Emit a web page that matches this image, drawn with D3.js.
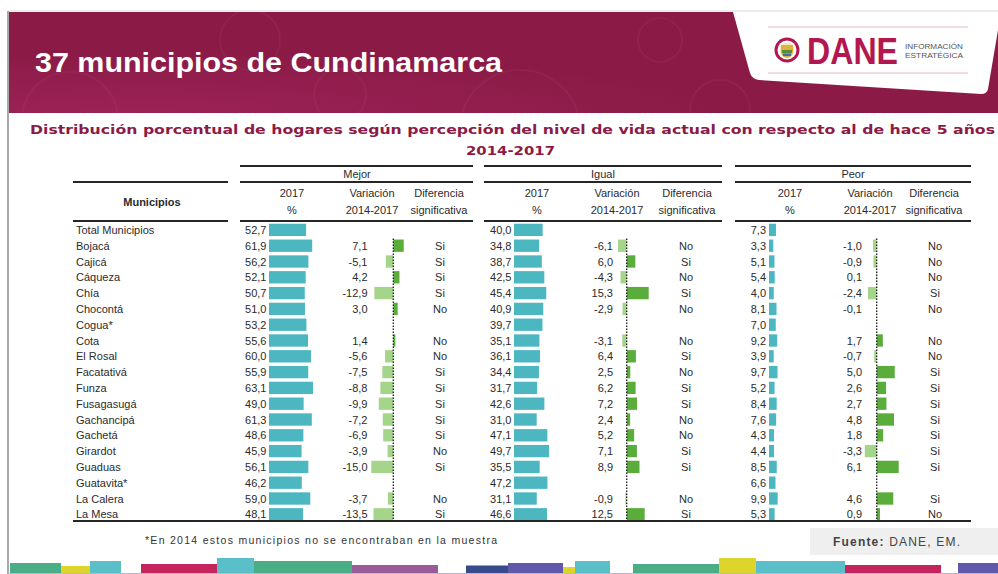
<!DOCTYPE html>
<html>
<head>
<meta charset="utf-8">
<script src="https://cdn.jsdelivr.net/npm/d3@7"></script>
<style>
  html, body { margin: 0; padding: 0; background: #ffffff; }
  svg { display: block; font-family: "Liberation Sans", Arial, sans-serif; }
</style>
</head>
<body>
<svg id="chart" width="998" height="574"></svg>
<script>
// ---- Data: perception of current living standard vs. 5 years earlier ----
const municipios = ["Total Municipios", "Bojacá", "Cajicá", "Cáqueza", "Chía", "Chocontá", "Cogua*",
  "Cota", "El Rosal", "Facatativá", "Funza", "Fusagasugá", "Gachancipá", "Gachetá", "Girardot",
  "Guaduas", "Guatavita*", "La Calera", "La Mesa"];

const mejor2017 = [52.7, 61.9, 56.2, 52.1, 50.7, 51.0, 53.2, 55.6, 60.0, 55.9, 63.1, 49.0, 61.3, 48.6, 45.9, 56.1, 46.2, 59.0, 48.1];
const mejorVar  = [null, 7.1, -5.1, 4.2, -12.9, 3.0, null, 1.4, -5.6, -7.5, -8.8, -9.9, -7.2, -6.9, -3.9, -15.0, null, -3.7, -13.5];
const mejorSig  = [null, "Si", "Si", "Si", "Si", "No", null, "No", "No", "Si", "Si", "Si", "Si", "Si", "No", "Si", null, "No", "Si"];

const igual2017 = [40.0, 34.8, 38.7, 42.5, 45.4, 40.9, 39.7, 35.1, 36.1, 34.4, 31.7, 42.6, 31.0, 47.1, 49.7, 35.5, 47.2, 31.1, 46.6];
const igualVar  = [null, -6.1, 6.0, -4.3, 15.3, -2.9, null, -3.1, 6.4, 2.5, 6.2, 7.2, 2.4, 5.2, 7.1, 8.9, null, -0.9, 12.5];
const igualSig  = [null, "No", "Si", "No", "Si", "No", null, "No", "Si", "No", "Si", "Si", "No", "No", "Si", "Si", null, "No", "Si"];

const peor2017 = [7.3, 3.3, 5.1, 5.4, 4.0, 8.1, 7.0, 9.2, 3.9, 9.7, 5.2, 8.4, 7.6, 4.3, 4.4, 8.5, 6.6, 9.9, 5.3];
const peorVar  = [null, -1.0, -0.9, 0.1, -2.4, -0.1, null, 1.7, -0.7, 5.0, 2.6, 2.7, 4.8, 1.8, -3.3, 6.1, null, 4.6, 0.9];
const peorSig  = [null, "No", "No", "No", "Si", "No", null, "No", "No", "Si", "Si", "Si", "Si", "Si", "Si", "Si", null, "Si", "No"];

const grupos = ["Mejor", "Igual", "Peor"];
const colHeaders = [["2017", "%"], ["Variación", "2014-2017"], ["Diferencia", "significativa"]];

const titulo = "37 municipios de Cundinamarca";
const subtitulo = "Distribución porcentual de hogares según percepción del nivel de vida actual con respecto al de hace 5 años";
const periodo = "2014-2017";
const nota = "*En 2014 estos municipios no se encontraban en la muestra";
const fuenteBold = "Fuente:";
const fuenteText = " DANE, EM.";

// ---- Layout ----
const W = 998, H = 574;
const svg = d3.select("#chart");
const maroon = "#8b1b46";
const teal = "#4cb6c1";
const greenPos = "#5aac3b";
const greenNeg = "#a5d48b";
const ink = "#2b2b2b";

// Column geometry for each group
const layout = [
  { x0: 240, x1: 473, label: 357, h: [292, 372, 439], valRight: 266.5, barX: 269, varRight: 367.5, axis: 393.3, sig: 440 },
  { x0: 484, x1: 722, label: 603, h: [537, 617, 687], valRight: 511.5, barX: 514, varRight: 613, axis: 626.7, sig: 686 },
  { x0: 735, x1: 971, label: 853, h: [790, 870, 934], valRight: 766, barX: 769, varRight: 862, axis: 876.7, sig: 935 }
];
const series = [
  { pct: mejor2017, vr: mejorVar, sig: mejorSig },
  { pct: igual2017, vr: igualVar, sig: igualSig },
  { pct: peor2017, vr: peorVar, sig: peorSig }
];

// ---- Frame and header band ----
svg.append("rect").attr("x", 0).attr("y", 0).attr("width", W).attr("height", H).attr("fill", "#fff");

const defs = svg.append("defs");
const grad = defs.append("radialGradient").attr("id", "bandGlow")
  .attr("cx", "0.12").attr("cy", "1.0").attr("r", "0.6");
grad.append("stop").attr("offset", "0").attr("stop-color", "#9c2257");
grad.append("stop").attr("offset", "1").attr("stop-color", maroon);

svg.append("line").attr("x1", 8).attr("x2", W).attr("y1", 11).attr("y2", 11)
  .attr("stroke", "#d9d9d9").attr("stroke-width", 1);
svg.append("rect").attr("x", 9).attr("y", 12).attr("width", W - 9).attr("height", 101)
  .attr("fill", "url(#bandGlow)");

// faint decorative rings in the band
const rings = [[70, 120, 48], [250, 40, 30], [340, 95, 26], [520, 130, 60], [660, 40, 22], [720, 110, 30]];
svg.append("g").selectAll("circle").data(rings).join("circle")
  .attr("cx", d => d[0]).attr("cy", d => d[1]).attr("r", d => d[2])
  .attr("fill", "none").attr("stroke", "rgba(255,255,255,0.035)").attr("stroke-width", 2);
svg.append("rect").attr("x", 0).attr("y", 113).attr("width", W).attr("height", 20).attr("fill", "#fff");

// left frame line
svg.append("line").attr("x1", 8).attr("x2", 8).attr("y1", 11).attr("y2", H)
  .attr("stroke", "#a9a9a9").attr("stroke-width", 2);

svg.append("text").attr("x", 35).attr("y", 72)
  .attr("fill", "#fff").attr("font-size", 28).attr("font-weight", "bold")
  .attr("textLength", 467).attr("lengthAdjust", "spacingAndGlyphs")
  .text(titulo);

// logo plate
svg.append("path")
  .attr("d", "M733,12 L998,12 L998,30 L988,89 Q987,94 981,94 L759,80 Q752,79 750,73 Z")
  .attr("fill", "#fff");
const logo = svg.append("g");
logo.append("line").attr("x1", 768).attr("x2", 968).attr("y1", 27).attr("y2", 27)
  .attr("stroke", "#efcfdd").attr("stroke-width", 1.5);
logo.append("line").attr("x1", 768).attr("x2", 968).attr("y1", 73).attr("y2", 73)
  .attr("stroke", "#efcfdd").attr("stroke-width", 1.5);
logo.append("circle").attr("cx", 787).attr("cy", 50).attr("r", 12.5).attr("fill", "#b3174f");
logo.append("circle").attr("cx", 787).attr("cy", 50).attr("r", 9.5).attr("fill", "#fff");
logo.append("circle").attr("cx", 787).attr("cy", 50).attr("r", 7.5).attr("fill", "#f3e6b8");
logo.append("path").attr("d", "M781,45 L793,45 L793,51 Q793,57 787,58 Q781,57 781,51 Z")
  .attr("fill", "#d9b53a");
logo.append("rect").attr("x", 782).attr("y", 50).attr("width", 10).attr("height", 3).attr("fill", "#5a8c3c");
logo.append("rect").attr("x", 783).attr("y", 53.5).attr("width", 8).attr("height", 2.5).attr("fill", "#3f6fb0");
logo.append("text").attr("x", 807).attr("y", 64)
  .attr("fill", "#b3174f").attr("font-size", 36).attr("font-weight", "bold")
  .attr("textLength", 91).attr("lengthAdjust", "spacingAndGlyphs")
  .attr("font-family", "'Liberation Sans Narrow', 'Liberation Sans', Arial, sans-serif")
  .text("DANE");
logo.append("text").attr("x", 905).attr("y", 48.5).attr("fill", "#555").attr("font-size", 7.5)
  .attr("textLength", 58).attr("lengthAdjust", "spacingAndGlyphs").text("INFORMACIÓN");
logo.append("text").attr("x", 905).attr("y", 57.5).attr("fill", "#555").attr("font-size", 7.5)
  .attr("textLength", 58).attr("lengthAdjust", "spacingAndGlyphs").text("ESTRATÉGICA");

// ---- Subtitle ----
svg.append("text").attr("x", 30).attr("y", 134)
  .attr("fill", maroon).attr("font-size", 13).attr("font-weight", "bold")
  .attr("font-family", "'DejaVu Sans', sans-serif")
  .attr("textLength", 965).attr("lengthAdjust", "spacingAndGlyphs")
  .text(subtitulo);
svg.append("text").attr("x", 466).attr("y", 155)
  .attr("fill", maroon).attr("font-size", 13).attr("font-weight", "bold")
  .attr("font-family", "'DejaVu Sans', sans-serif")
  .attr("textLength", 89).attr("lengthAdjust", "spacingAndGlyphs")
  .text(periodo);

// ---- Table header ----
const rule = (x1, x2, y) => svg.append("line").attr("x1", x1).attr("x2", x2).attr("y1", y).attr("y2", y)
  .attr("stroke", "#262626").attr("stroke-width", 2);

rule(73, 228, 182);
rule(73, 228, 221);
layout.forEach((L, i) => {
  rule(L.x0, L.x1, 166);
  rule(L.x0, L.x1, 182);
  rule(L.x0, L.x1, 221);
  svg.append("text").attr("x", L.label).attr("y", 178).attr("text-anchor", "middle")
    .attr("font-size", 11).attr("fill", ink).text(grupos[i]);
  colHeaders.forEach((lines, j) => {
    lines.forEach((t, k) => {
      svg.append("text").attr("x", L.h[j]).attr("y", 197 + k * 17).attr("text-anchor", "middle")
        .attr("font-size", 11).attr("fill", ink).text(t);
    });
  });
});
svg.append("text").attr("x", 152).attr("y", 206).attr("text-anchor", "middle")
  .attr("font-size", 11).attr("font-weight", "bold").attr("fill", ink).text("Municipios");

// ---- Rows ----
const y = d3.scaleBand().domain(municipios).range([222, 522.2]).paddingInner(0.22).paddingOuter(0.11);
const pctW = d3.scaleLinear().domain([0, 100]).range([2.1, 68.5]);
const fmt = v => d3.format(".1f")(v).replace("−", "-").replace(".", ",");

svg.append("g").selectAll("text").data(municipios).join("text")
  .attr("x", 76).attr("y", d => y(d) + y.bandwidth() / 2 + 4)
  .attr("font-size", 11).attr("fill", ink).text(d => d);

series.forEach((s, gi) => {
  const L = layout[gi];
  const g = svg.append("g");
  const rows = municipios.map((m, i) => ({ m, pct: s.pct[i], vr: s.vr[i], sig: s.sig[i] }));
  const maxAbs = d3.max(s.vr, v => v == null ? 0 : Math.abs(v));
  const xv = d3.scaleLinear().domain([-maxAbs, maxAbs]).range([L.axis - 22, L.axis + 22]);

  // 2017 values and bars
  g.selectAll(".pv").data(rows).join("text")
    .attr("x", L.valRight).attr("y", d => y(d.m) + y.bandwidth() / 2 + 4)
    .attr("text-anchor", "end").attr("font-size", 11).attr("fill", ink)
    .text(d => fmt(d.pct));
  g.selectAll(".pb").data(rows).join("rect")
    .attr("x", L.barX).attr("y", d => y(d.m))
    .attr("width", d => pctW(d.pct)).attr("height", y.bandwidth())
    .attr("fill", teal);

  const vrows = rows.filter(d => d.vr != null);
  g.selectAll(".vv").data(vrows).join("text")
    .attr("x", L.varRight).attr("y", d => y(d.m) + y.bandwidth() / 2 + 4)
    .attr("text-anchor", "end").attr("font-size", 11).attr("fill", ink)
    .text(d => fmt(d.vr));
  g.selectAll(".vb").data(vrows).join("rect")
    .attr("x", d => Math.min(xv(0), xv(d.vr))).attr("y", d => y(d.m))
    .attr("width", d => Math.abs(xv(d.vr) - xv(0))).attr("height", y.bandwidth())
    .attr("fill", d => d.vr >= 0 ? greenPos : greenNeg);
  g.selectAll(".sv").data(vrows).join("text")
    .attr("x", L.sig).attr("y", d => y(d.m) + y.bandwidth() / 2 + 4)
    .attr("text-anchor", "middle").attr("font-size", 11).attr("fill", ink)
    .text(d => d.sig);

  // zero axis for the variation bars
  g.append("line").attr("x1", xv(0)).attr("x2", xv(0))
    .attr("y1", y(municipios[1]) - 1).attr("y2", 521)
    .attr("stroke", "#1a1a1a").attr("stroke-width", 1.3).attr("stroke-dasharray", "1.5,1.5");
});

rule(73, 971, 521);

// ---- Footer ----
svg.append("text").attr("x", 145).attr("y", 544)
  .attr("font-size", 10.5).attr("fill", "#333")
  .attr("textLength", 352).attr("lengthAdjust", "spacing")
  .text(nota);

svg.append("rect").attr("x", 810).attr("y", 528).attr("width", W - 810).attr("height", 27).attr("fill", "#efefef");
const fuente = svg.append("text").attr("x", 833).attr("y", 546).attr("font-size", 12).attr("fill", "#444")
  .attr("textLength", 127).attr("lengthAdjust", "spacing");
fuente.append("tspan").attr("font-weight", "bold").text(fuenteBold);
fuente.append("tspan").text(fuenteText);

// decorative colour strip along the bottom edge
const strip = [
  [10, 61, 563, "#49ae86"], [61, 90, 566, "#ded52c"], [90, 121, 561, "#5bbfca"],
  [141, 217, 564, "#c5245c"], [217, 254, 558, "#5bbfca"], [254, 352, 561, "#49ae86"], [352, 438, 565, "#9a5b9a"],
  [466, 508, 565.5, "#374a8c"], [508, 563, 563, "#6158a9"], [563, 575, 567, "#ded52c"], [575, 610, 561, "#5bbfca"],
  [633, 719, 564, "#49ae86"], [719, 756, 558, "#ded52c"], [756, 845, 561, "#5bbfca"], [845, 941, 565, "#c5245c"],
  [958, 998, 563, "#6158a9"]
];
svg.append("g").selectAll("rect").data(strip).join("rect")
  .attr("x", d => d[0]).attr("y", d => d[2]).attr("width", d => d[1] - d[0]).attr("height", d => H - d[2])
  .attr("fill", d => d[3]);
svg.append("line").attr("x1", 8).attr("x2", W).attr("y1", 573.5).attr("y2", 573.5)
  .attr("stroke", "#b9b9c9").attr("stroke-width", 1);
</script>
</body>
</html>
